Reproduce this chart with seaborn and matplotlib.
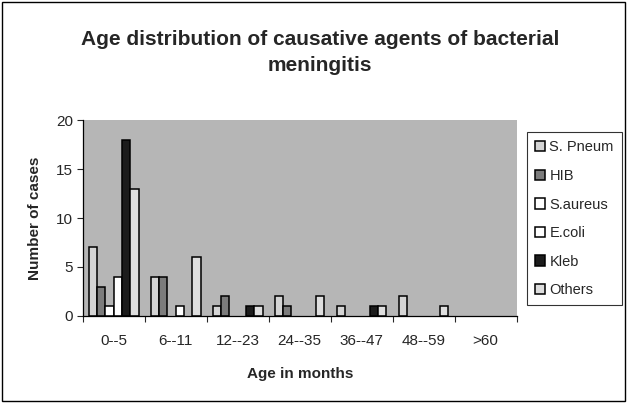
import pandas as pd
import numpy as np
import matplotlib.pyplot as plt
import seaborn as sns
from matplotlib.patches import Rectangle

age_groups = ["0--5", "6--11", "12--23", "24--35", "36--47", "48--59", ">60"]
agents = ["S. Pneum", "HIB", "S.aureus", "E.coli", "Kleb", "Others"]

s_pneum = [7, 4, 1, 2, 1, 2, 0]
hib = [3, 4, 2, 1, 0, 0, 0]
s_aureus = [1, 0, 0, 0, 0, 0, 0]
e_coli = [4, 1, 0, 0, 0, 0, 0]
kleb = [18, 0, 1, 0, 1, 0, 0]
others = [13, 6, 1, 2, 1, 1, 0]

colors = ["#d4d4d4", "#7c7c7c", "#ffffff", "#ffffff", "#1c1c1c", "#dedede"]


def plot_age_distribution(df):
    sns.set_style("white")
    plt.rcParams['font.family'] = ['Liberation Sans', 'DejaVu Sans']

    fig = plt.figure(figsize=(6.27, 4.03), dpi=100)
    ax = fig.add_axes([0.132, 0.216, 0.692, 0.486])
    ax.set_facecolor("#b6b6b6")

    sns.barplot(data=df, x="Age", y="Cases", hue="Agent", hue_order=agents,
                order=age_groups, palette=colors, edgecolor="black",
                linewidth=1.1, width=0.8, saturation=1, ax=ax)

    # empty bars should not leave an outline on the baseline
    for container in ax.containers:
        for bar in container:
            if bar.get_height() == 0:
                bar.set_linewidth(0)

    ax.set_ylim(0, 20)
    ax.set_yticks([0, 5, 10, 15, 20])
    ax.set_xlim(-0.5, len(age_groups) - 0.5)
    ax.set_xticks(np.arange(len(age_groups) + 1) - 0.5)
    ax.set_xticklabels([])
    ax.set_xticks(np.arange(len(age_groups)), minor=True)
    ax.set_xticklabels(age_groups, minor=True)
    ax.tick_params(axis="x", which="major", length=4, width=0.8, direction="out", bottom=True)
    ax.tick_params(axis="x", which="minor", length=0, pad=13, labelsize=11)
    ax.tick_params(axis="y", length=4, width=0.8, direction="out", left=True, labelsize=11, pad=3)

    for side in ["top", "right"]:
        ax.spines[side].set_visible(False)
    for side in ["left", "bottom"]:
        ax.spines[side].set_color("black")
        ax.spines[side].set_linewidth(0.9)

    ax.set_xlabel("Age in months", fontsize=11, fontweight="bold", labelpad=14)
    ax.set_ylabel("Number of cases", fontsize=11, fontweight="bold", labelpad=10)

    fig.suptitle("Age distribution of causative agents of bacterial\nmeningitis",
                 x=0.51, y=0.925, fontsize=15, fontweight="bold", linespacing=1.45)

    handles, labels = ax.get_legend_handles_labels()
    ax.legend(handles, labels, loc="center left", bbox_to_anchor=(0.84, 0.457),
              bbox_transform=fig.transFigure, frameon=True, fancybox=False,
              edgecolor="black", fontsize=10.5, handlelength=0.7, handleheight=0.7,
              handletextpad=0.3, labelspacing=1.0, borderpad=0.55, borderaxespad=0)
    ax.get_legend().get_frame().set_linewidth(0.8)

    fig.patches.append(Rectangle((0.003, 0.005), 0.994, 0.99, transform=fig.transFigure,
                                 fill=False, edgecolor="black", linewidth=1.0))

    fig.savefig("out.png", dpi=100)


if __name__ == '__main__':
    values = [s_pneum, hib, s_aureus, e_coli, kleb, others]
    rows = []
    for agent, vals in zip(agents, values):
        for age, v in zip(age_groups, vals):
            rows.append({"Age": age, "Agent": agent, "Cases": v})
    df = pd.DataFrame(rows)
    plot_age_distribution(df)
